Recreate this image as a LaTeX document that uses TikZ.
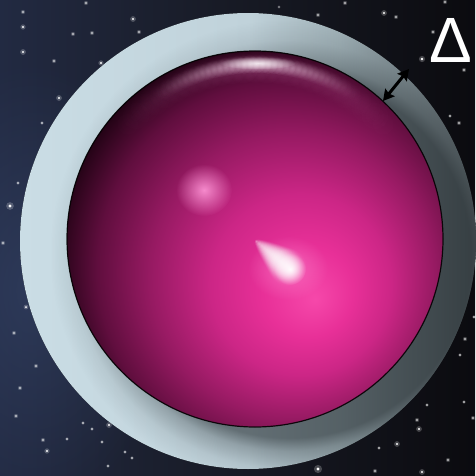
\documentclass[tikz,border=0pt]{standalone}
\usepackage{fontspec}
\setmainfont{Liberation Sans}
\usetikzlibrary{arrows.meta,fadings}

% palette
\definecolor{bgA}{RGB}{34,42,66}
\definecolor{bgB}{RGB}{24,27,38}
\definecolor{bgC}{RGB}{11,11,15}
\definecolor{nebula}{RGB}{60,78,120}
\definecolor{shellA}{RGB}{202,221,229}
\definecolor{shellB}{RGB}{192,210,218}
\definecolor{shellC}{RGB}{160,177,183}
\definecolor{shellD}{RGB}{118,131,136}
\definecolor{shellE}{RGB}{82,91,95}
\definecolor{shadowgray}{RGB}{36,44,48}
\definecolor{pkA}{RGB}{246,72,170}
\definecolor{pkB}{RGB}{232,48,152}
\definecolor{pkC}{RGB}{204,38,134}
\definecolor{pkD}{RGB}{150,26,98}
\definecolor{pkE}{RGB}{96,14,62}
\definecolor{pkF}{RGB}{30,2,18}
\definecolor{pkG}{RGB}{10,0,6}
\definecolor{pinkglow}{RGB}{255,150,215}
\definecolor{rimglow}{RGB}{255,228,246}

% shadings
\pgfdeclarehorizontalshading{spaceshade}{100bp}{color(0bp)=(bgA); color(25bp)=(bgA); color(48bp)=(bgB); color(75bp)=(bgC); color(100bp)=(bgC)}
\pgfdeclarehorizontalshading{shellshade}{100bp}{color(0bp)=(shellA); color(25bp)=(shellA); color(50bp)=(shellB); color(60bp)=(shellC); color(68bp)=(shellD); color(75bp)=(shellE); color(100bp)=(shellE)}
\pgfdeclareradialshading{pinkball}{\pgfqpoint{8bp}{-8bp}}{color(0bp)=(pkA); color(6bp)=(pkB); color(12bp)=(pkC); color(19bp)=(pkD); color(25bp)=(pkE); color(30bp)=(pkF); color(50bp)=(pkG)}

% soft blob: opaque centre, transparent rim
\tikzfading[name=softspot, inner color=transparent!0, outer color=transparent!100]
% halo around the core, pushed towards the lower right
\pgfdeclareradialshading{coreshadowmask}{\pgfqpoint{6bp}{-3bp}}{color(0bp)=(white); color(19.5bp)=(white); color(21bp)=(white!50!black); color(23bp)=(white!15!black); color(25bp)=(black); color(50bp)=(black)}
\pgfdeclarefading{coreshadow}{\pgfuseshading{coreshadowmask}}

\tikzset{
  star/.style={fill=white},
  starhalo/.style={fill=white, opacity=0.22},
  glow/.style={path fading=softspot},
  gaparrow/.style={{Stealth[length=11pt,width=12pt,inset=1.5pt]}-{Stealth[length=11pt,width=12pt,inset=1.5pt]}, line width=3pt, black},
  deltalabel/.style={text=white, inner sep=0pt, font=\fontsize{64}{64}\selectfont},
}

\begin{document}
\begin{tikzpicture}[x=1pt,y=-1pt]
\useasboundingbox (0,0) rectangle (475,476);

% night sky
\fill[shading=spaceshade] (0,0) rectangle (475,476);
\fill[nebula, opacity=0.45, glow] (30,290) ellipse (140pt and 230pt);

% stars: x / y / radius
\foreach \sx/\sy/\sr in {
  86/3/0.9, 23/12/0.9, 23/27/1.1, 133/19/1.2, 73/34/0.9, 92/33/0.9, 139/32/0.9,
  23/52/1.2, 54/61/0.9, 101/63/1.1, 59/98/1.2, 42/123/0.8, 18/183/0.8, 10/206/1.6,
  3/243/0.9, 22/258/0.9, 26/307/1.0, 14/333/0.9, 36/366/0.9, 20/388/0.9, 16/416/0.9,
  43/440/0.9, 47/451/1.1, 67/439/0.8, 92/429/0.8, 109/425/1.2, 102/442/0.8,
  132/458/0.8, 108/466/0.8, 83/423/0.8, 125/452/0.8,
  318/469/1.7, 419/429/1.2, 397/444/1.2, 417/420/0.9, 473/418/0.9, 448/460/0.9,
  422/472/1.2, 375/471/0.9, 379/448/0.8, 427/405/0.8, 464/402/0.8,
  465/339/0.9, 460/355/0.8, 474/317/0.8, 464/70/0.9, 459/123/0.9, 450/116/0.8,
  384/13/1.2, 396/17/0.9, 422/59/1.3, 433/32/0.9, 445/2/0.9, 345/3/0.9,
  318/15/0.9, 279/7/0.7}
{
  \fill[starhalo] (\sx,\sy) circle (2.4*\sr pt);
  \fill[star] (\sx,\sy) circle (\sr pt);
}

% outer shell
\fill[shading=shellshade] (248,241) circle (228pt);

% shadow cast by the core onto the shell
\begin{scope}
  \clip (248,241) circle (228pt);
  \fill[shadowgray, opacity=0.6, path fading=coreshadow] (255,239) circle (232pt);
\end{scope}

% magenta core
\fill[shading=pinkball] (255,239) circle (188pt);
\begin{scope}
  \clip (255,239) circle (188pt);
  % reflection band hugging the upper edge
  \foreach \p in {-48,-44,...,48}{
    \pgfmathsetmacro{\op}{0.2*(1-abs(\p)/52)}
    \fill[pinkglow, opacity=\op, glow] ({255+172*sin(\p)},{239-172*cos(\p)}) circle (16pt);
  }
  \foreach \p in {-34,-32,...,34}{
    \pgfmathsetmacro{\op}{0.5*(1-abs(\p)/36)^1.2}
    \fill[rimglow, opacity=\op, glow] ({256+175*sin(\p)},{239-175*cos(\p)}) circle (9.5pt);
  }
  \fill[white, opacity=0.75, glow] (258,63) ellipse (38pt and 6.5pt);
  % diffuse glow upper left
  \fill[pinkglow, opacity=0.9, glow] (204,190) ellipse (28pt and 26pt);
  % specular highlight: a soft teardrop from (256,241) towards (289,268)
  \fill[pinkglow, opacity=0.5, glow] (288,268) ellipse (40pt and 32pt);
  \foreach \t in {0,0.05,...,1.0}{
    \fill[white, opacity=0.3, glow] ({256+33*\t},{241+27*\t}) circle ({2+18*\t^0.8 pt});
  }
  \fill[white, opacity=0.95, glow] (290,269) circle (16pt);
\end{scope}
\draw[black, opacity=0.85, line width=1.2pt] (255,239) circle (188pt);

% thickness of the shell
\coordinate (gapin) at (383,101);
\coordinate (gapout) at (409,69);
\draw[gaparrow] (gapin) -- (gapout);

\node[deltalabel] (delta) at (451,40) {Δ};
\end{tikzpicture}
\end{document}
